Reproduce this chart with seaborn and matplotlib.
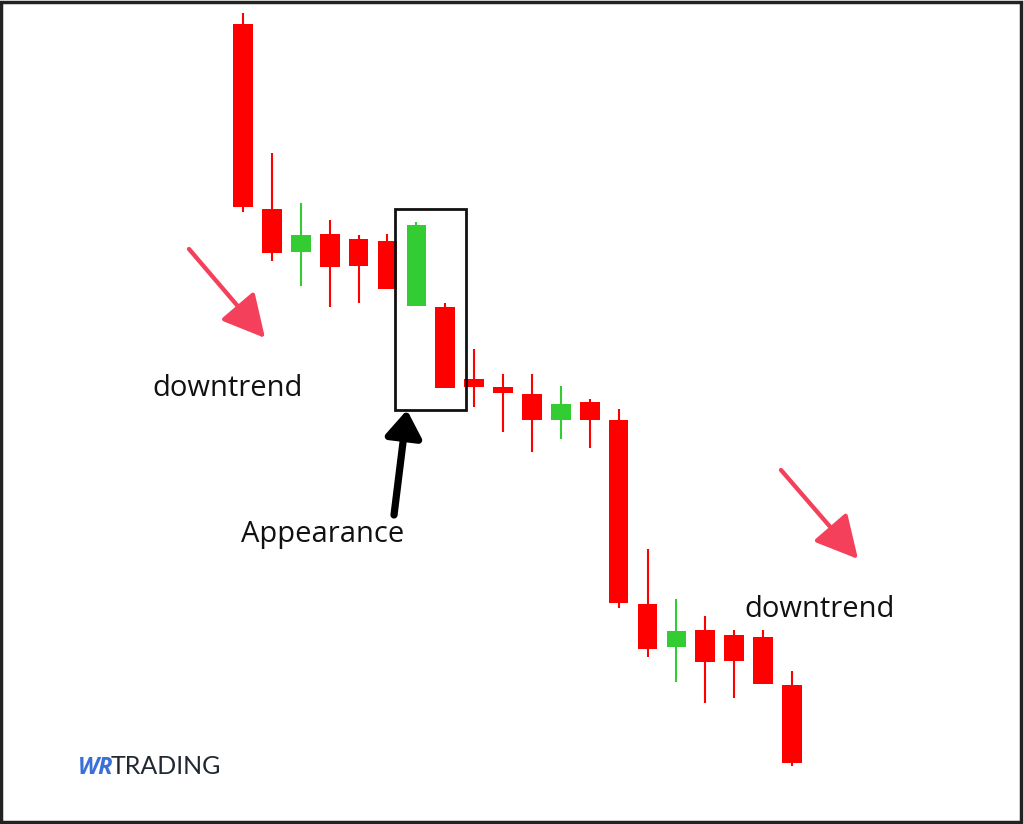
import matplotlib
matplotlib.use("Agg")
import numpy as np
import matplotlib.pyplot as plt
from matplotlib.patches import Rectangle
import seaborn as sns

# candle data (index 0..19), price units
opens = [97.6, 79.1, 74.8, 76.6, 76.1, 75.9, 69.4, 69.3, 62.1, 61.3,
         60.6, 58.0, 59.8, 58.0, 39.6, 35.3, 37.0, 36.5, 36.3, 31.5]
highs = [98.7, 84.7, 79.7, 78.0, 76.5, 76.6, 77.8, 69.7, 65.1, 62.6,
         62.6, 61.4, 60.1, 59.1, 45.1, 40.1, 38.4, 37.0, 37.0, 32.9]
lows = [78.8, 73.9, 71.4, 69.3, 69.7, 71.1, 69.4, 61.2, 59.3, 56.8,
        54.8, 56.1, 55.2, 39.2, 34.3, 31.8, 29.7, 30.2, 31.6, 23.4]
closes = [79.3, 74.7, 76.5, 73.3, 73.4, 71.1, 77.5, 61.2, 61.3, 60.7,
          58.0, 59.6, 58.0, 39.7, 35.1, 36.9, 33.8, 33.9, 31.6, 23.7]

trend_label = "downtrend"
pattern_label = "Appearance"

RED = "#ff0000"
GREEN = "#33cc33"
ARROW_RED = "#f4405a"

sns.set_theme(style="white")
plt.rcParams["font.family"] = ["Open Sans", "DejaVu Sans"]

W, H = 1024, 824
fig = plt.figure(figsize=(W / 100, H / 100), dpi=100)
ax = fig.add_axes([0, 0, 1, 1])

# pixel mapping: index 0 -> x=243, index 19 -> x=792
step = (792 - 243) / 19
ax.set_xlim(-243 / step, 19 + (W - 792) / step)
ax.set_ylim(100 - H / 10, 100)
ax.set_axis_off()


def fx(px):
    return px / W


def fy(py):
    return 1 - py / H


x = np.arange(len(opens))
o = np.array(opens)
c = np.array(closes)
colors = [GREEN if cc > oo else RED for oo, cc in zip(o, c)]

ax.vlines(x, lows, highs, colors=colors, linewidth=1.5, zorder=2)
ax.bar(x, np.abs(c - o), bottom=np.minimum(o, c), width=0.68,
       color=colors, edgecolor="none", zorder=3)

# box around the pattern
ax.add_patch(Rectangle((fx(395), fy(410)), fx(466) - fx(395), fy(209) - fy(410),
                       transform=ax.transAxes, fill=False, edgecolor="#111111",
                       linewidth=2.0, zorder=4))

# red trend arrows
for (x0, y0, x1, y1) in [(189, 249, 265, 338), (781, 470, 858, 559)]:
    ax.annotate("", xy=(fx(x1), fy(y1)), xytext=(fx(x0), fy(y0)),
                xycoords="axes fraction", textcoords="axes fraction",
                arrowprops=dict(arrowstyle="-|>,head_length=1.3,head_width=0.68",
                                color=ARROW_RED, lw=3.1, mutation_scale=20,
                                shrinkA=0, shrinkB=0))

# black arrow pointing to the box
ax.annotate("", xy=(fx(407), fy(410)), xytext=(fx(394), fy(515)),
            xycoords="axes fraction", textcoords="axes fraction",
            arrowprops=dict(arrowstyle="-|>,head_length=0.8,head_width=0.55",
                            color="black", lw=5.2, mutation_scale=20,
                            shrinkA=0, shrinkB=0, joinstyle="round"))

ax.text(fx(152), fy(396), trend_label, transform=ax.transAxes,
        fontsize=21, color="#111111", ha="left", va="baseline")
ax.text(fx(744), fy(617), trend_label, transform=ax.transAxes,
        fontsize=21, color="#111111", ha="left", va="baseline")
ax.text(fx(241), fy(542), pattern_label, transform=ax.transAxes,
        fontsize=21, color="#111111", ha="left", va="baseline")

# logo
ax.text(fx(78), fy(774), "WR", transform=ax.transAxes, fontsize=17,
        fontweight="bold", fontstyle="italic", color="#3d6fd9",
        ha="left", va="baseline")
ax.text(fx(111), fy(774), "TRADING", transform=ax.transAxes, fontsize=18,
        color="#222831", ha="left", va="baseline", family=["Lato", "DejaVu Sans"])

# outer frame
fig.patches.append(Rectangle((0.001, 0.002), 0.996, 0.995, transform=fig.transFigure,
                             fill=False, edgecolor="#222222", linewidth=2.5))

fig.savefig("out.png", dpi=100, facecolor="white")
